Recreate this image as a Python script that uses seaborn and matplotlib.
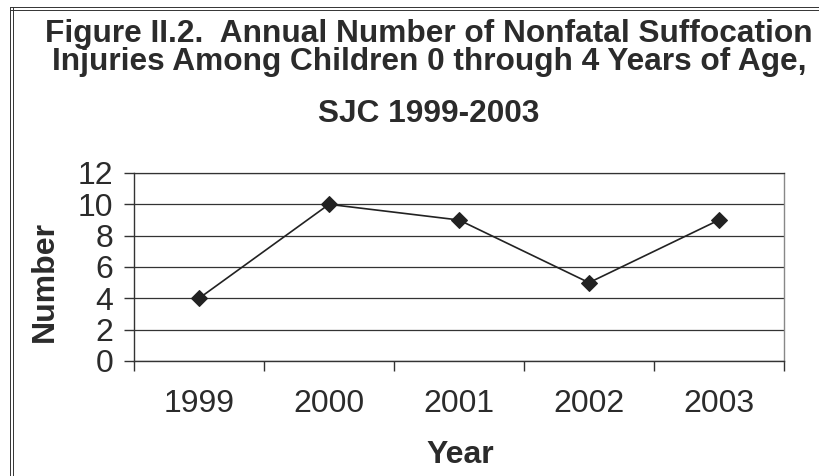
import matplotlib
matplotlib.use('Agg')
import matplotlib.pyplot as plt
import seaborn as sns
import pandas as pd
from matplotlib.lines import Line2D

# data
years = [1999, 2000, 2001, 2002, 2003]
counts = [4, 10, 9, 5, 9]
y_ticks = [0, 2, 4, 6, 8, 10, 12]

title_lines = [
    "Figure II.2.  Annual Number of Nonfatal Suffocation",
    "Injuries Among Children 0 through 4 Years of Age,",
    "SJC 1999-2003",
]

TEXT = '#2b2b2b'

sns.set_theme(style='white')
plt.rcParams['font.family'] = ['Liberation Sans', 'DejaVu Sans']

W, H = 819, 476
fig = plt.figure(figsize=(W / 100, H / 100), dpi=100)
ax = fig.add_axes([134 / W, 1 - 361 / H, (784 - 134) / W, (361 - 173) / H])

df = pd.DataFrame({'Year': years, 'Number': counts})
sns.lineplot(data=df, x='Year', y='Number', ax=ax, color='#222222',
             linewidth=1.2, marker='D', markersize=8,
             markeredgecolor='#222222', markerfacecolor='#222222')

ax.set_xlim(years[0] - 0.5, years[-1] + 0.5)
ax.set_ylim(y_ticks[0], y_ticks[-1])
ax.set_yticks(y_ticks)
ax.set_xticks(years)
ax.set_xticklabels([str(y) for y in years])
ax.set_xticks([y - 0.5 for y in years] + [years[-1] + 0.5], minor=True)

ax.yaxis.grid(True, color='#333333', linewidth=0.9)
ax.xaxis.grid(False)

for side in ['left', 'bottom']:
    ax.spines[side].set_color('#333333')
    ax.spines[side].set_linewidth(1.0)
ax.spines['right'].set_color('#888888')
ax.spines['right'].set_linewidth(1.0)
ax.spines['top'].set_color('#333333')
ax.spines['top'].set_linewidth(0.9)

ax.tick_params(axis='y', which='major', direction='out', length=7, width=1,
               color='#333333', labelsize=23, labelcolor=TEXT, pad=8, left=True)
ax.tick_params(axis='x', which='major', length=0, labelsize=23,
               labelcolor=TEXT, pad=20)
ax.tick_params(axis='x', which='minor', direction='out', length=7, width=1,
               color='#333333', bottom=True)

# axis titles placed by hand to sit where the original has them
ax.set_xlabel('')
ax.set_ylabel('')
fig.text(460 / W, 1 - 463 / H, 'Year', ha='center', va='baseline',
         fontsize=23, fontweight='bold', color=TEXT)
fig.text(45 / W, 1 - 281 / H, 'Number', ha='center', va='center', rotation=90,
         fontsize=23, fontweight='bold', color=TEXT)

# title, three lines as in the original
for txt, base in zip(title_lines, [42, 70, 122]):
    fig.text(429 / W, 1 - base / H, txt, ha='center', va='baseline',
             fontsize=22.8, fontweight='bold', color=TEXT)

# frame: double top line and double left line
for yp in [7, 9.5]:
    fig.add_artist(Line2D([10 / W, 1], [1 - yp / H, 1 - yp / H], transform=fig.transFigure,
                          color='#333333', linewidth=0.7))
for xp in [10, 13]:
    fig.add_artist(Line2D([xp / W, xp / W], [0, 1 - 7 / H], transform=fig.transFigure,
                          color='#333333', linewidth=0.7))

fig.savefig('out.png', dpi=100)
